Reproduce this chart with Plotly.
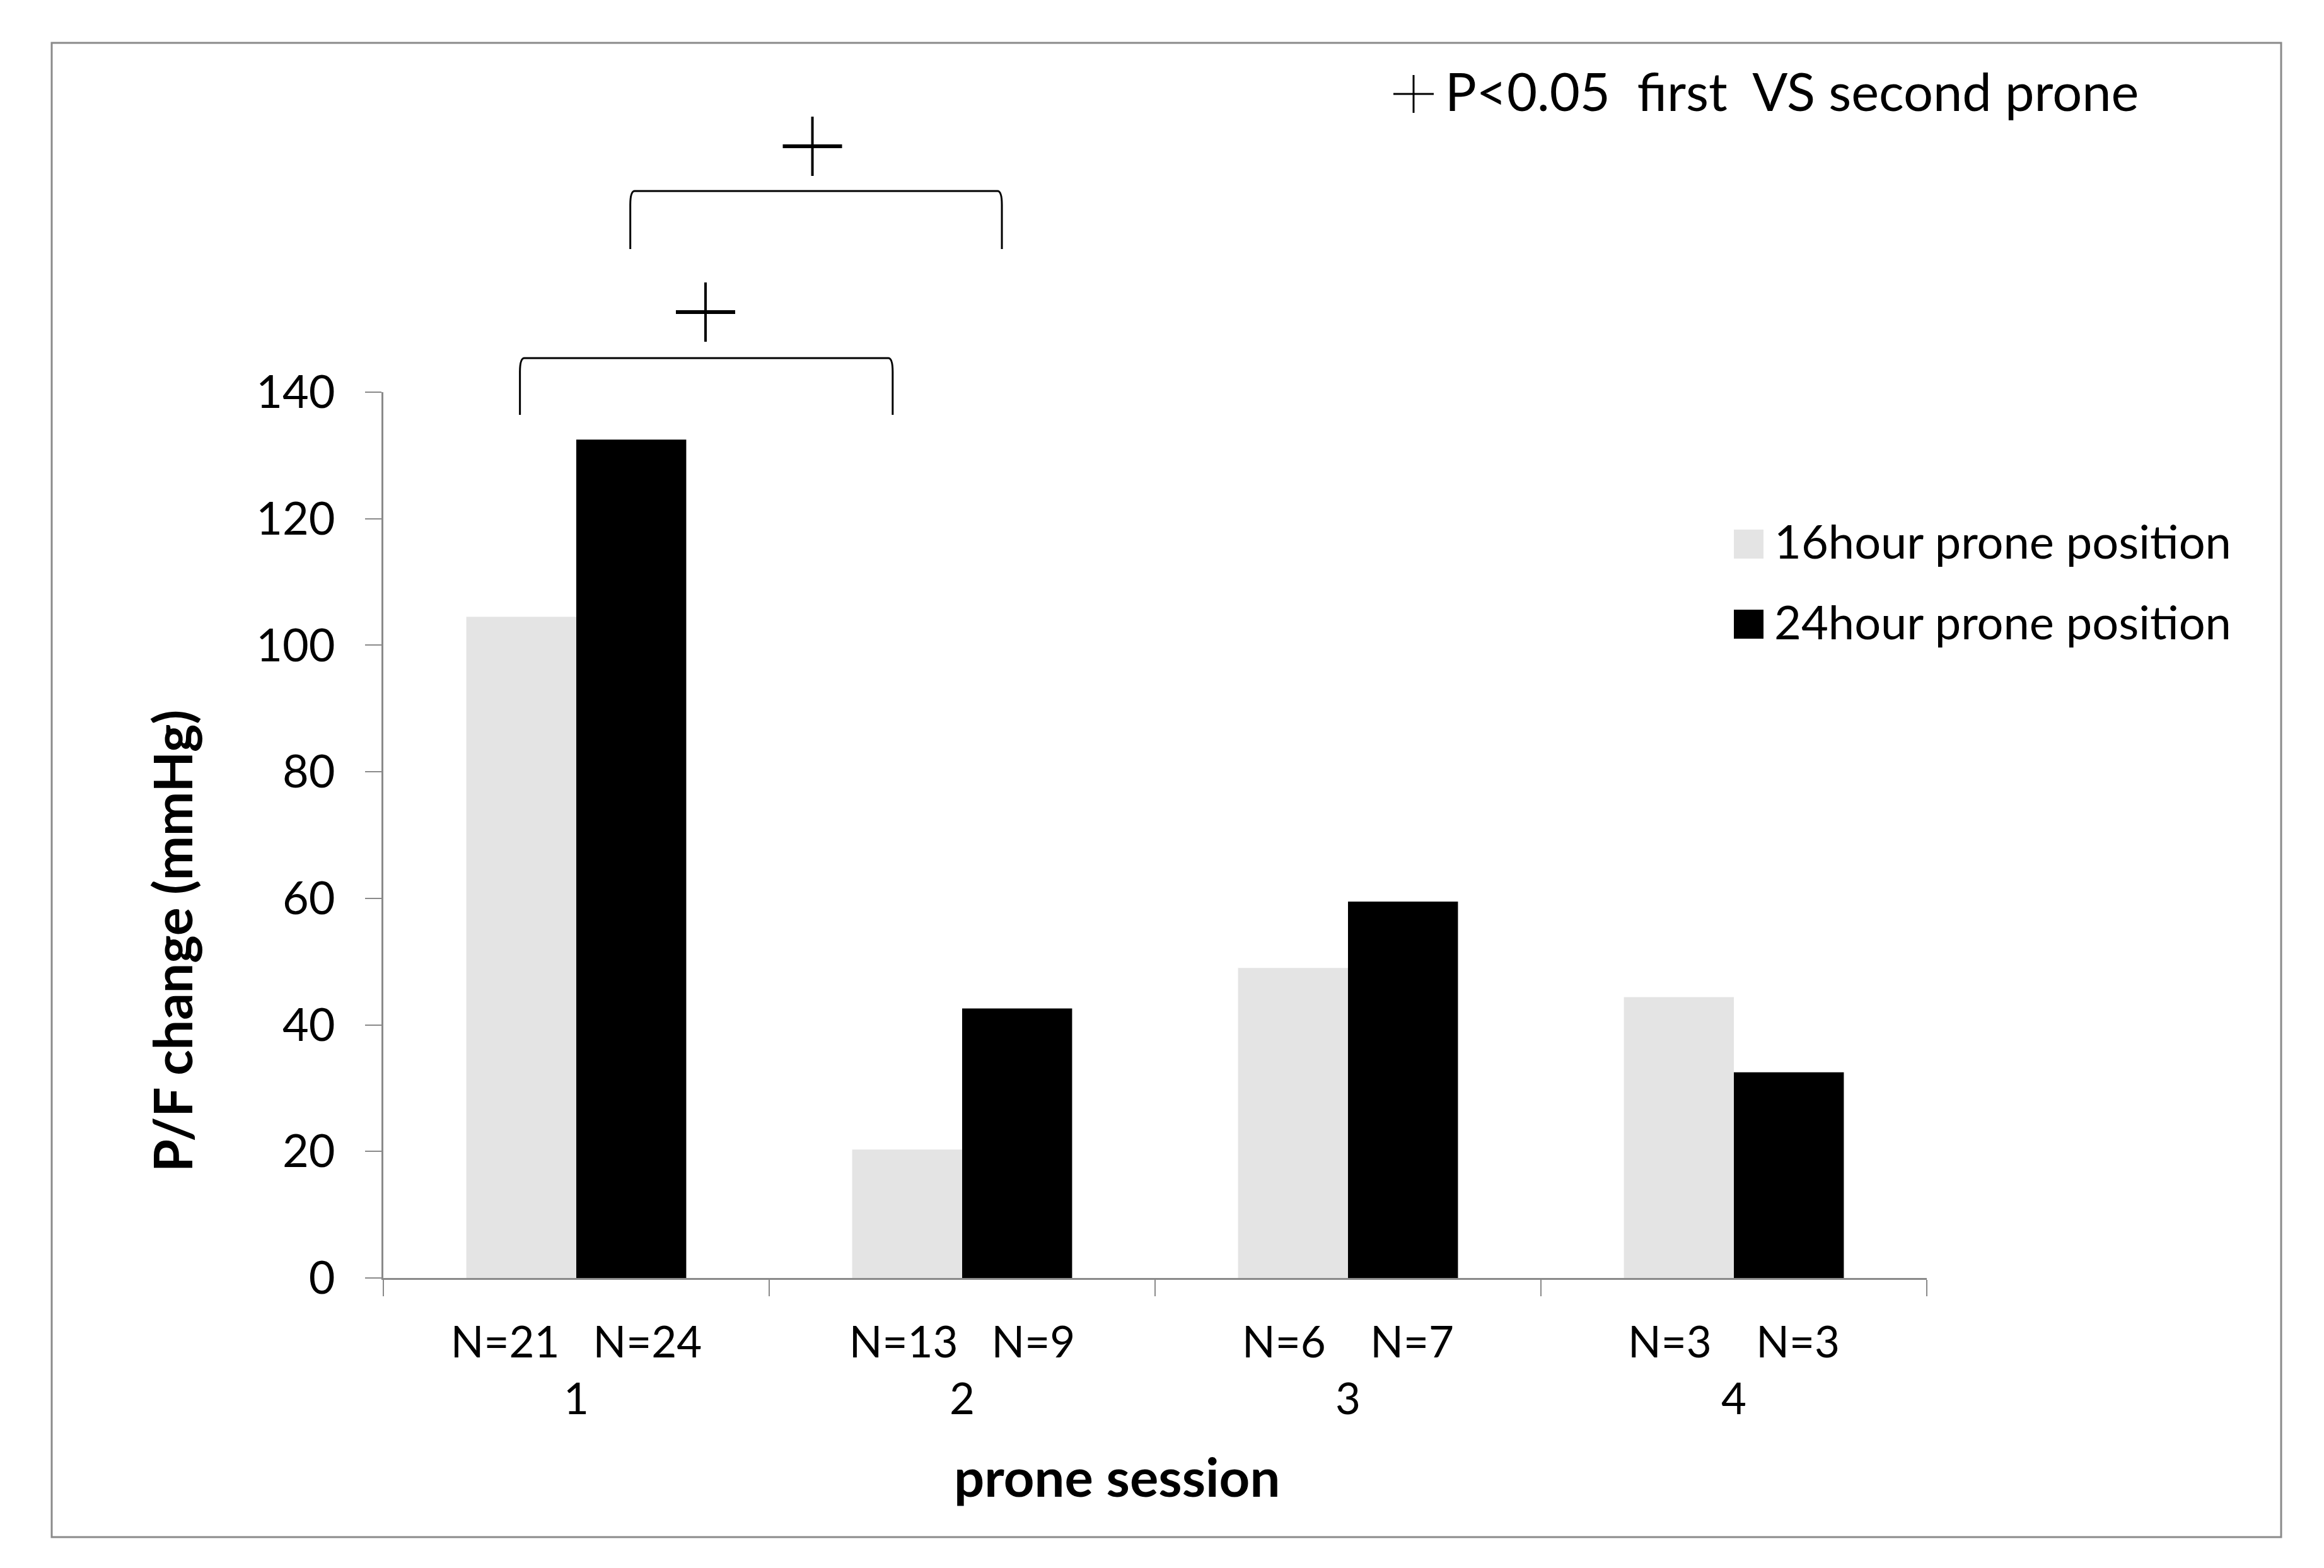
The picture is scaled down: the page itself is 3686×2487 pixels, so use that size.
import plotly.graph_objects as go

# ---------------- data ----------------
sessions = ["1", "2", "3", "4"]
pf_16h = [104.5, 20.3, 49.0, 44.4]
pf_24h = [132.5, 42.6, 59.5, 32.5]
n_16h = [21, 13, 6, 3]
n_24h = [24, 9, 7, 3]
series_names = ["16hour prone position", "24hour prone position"]
y_ticks = [0, 20, 40, 60, 80, 100, 120, 140]

# ---------------- layout geometry (reference pixels) ----------------
OFF = 8                      # page body margin
FW, FH = 3686 - 2 * OFF, 2487 - 2 * OFF
L, R, T, B = 608, 3056, 622, 2027
FONT = "Lato, 'Noto Sans', sans-serif"
GRAY = "#8a8a8a"


def px(x):
    return (x - L) / (R - L)


def py(y):
    return (B - y) / (B - T)


def gap_for(a, b):
    n = 3 if max(len(str(a)), len(str(b))) > 1 else 4
    return "\u00a0" * n


ticktext = [
    f"N={a}{gap_for(a, b)}N={b}<br>{s}" for s, a, b in zip(sessions, n_16h, n_24h)
]

fig = go.Figure()
fig.add_trace(go.Bar(x=sessions, y=pf_16h, name=series_names[0],
                     marker=dict(color="#E4E4E4", line=dict(width=0))))
fig.add_trace(go.Bar(x=sessions, y=pf_24h, name=series_names[1],
                     marker=dict(color="#000000", line=dict(width=0))))

shapes = []
# outer border
shapes.append(dict(type="rect", xref="paper", yref="paper",
                   x0=px(82), x1=px(3618), y0=py(2438), y1=py(68),
                   line=dict(color=GRAY, width=3), fillcolor="rgba(0,0,0,0)"))

# significance brackets (x in category units, y in paper units)
brackets = [
    # x0, x1, top(px), bottom(px)
    (-0.146, 0.82, 568, 658),
    (0.14, 1.103, 303, 395),
]
for x0, x1, ytp, ybp in brackets:
    yt, yb = py(ytp), py(ybp)
    c = 22 / (B - T)
    d = 7 / (R - L) * 4
    path = (f"M {x0},{yb} L {x0},{yt - c} Q {x0},{yt} {x0 + d},{yt} "
            f"L {x1 - d},{yt} Q {x1},{yt} {x1},{yt - c} L {x1},{yb}")
    shapes.append(dict(type="path", xref="x", yref="paper", path=path,
                       line=dict(color="black", width=3)))

# plus signs above brackets
pluses = [(0.335, 495), (0.612, 232)]
hw = 47 / (R - L) * 4
for cx, cyp in pluses:
    cy = py(cyp)
    hh = 47 / (B - T)
    shapes.append(dict(type="line", xref="x", yref="paper",
                       x0=cx - hw, x1=cx + hw, y0=cy, y1=cy,
                       line=dict(color="black", width=6)))
    shapes.append(dict(type="line", xref="x", yref="paper",
                       x0=cx, x1=cx, y0=cy - hh, y1=cy + hh,
                       line=dict(color="black", width=4)))

# thin plus in the note at top
shapes.append(dict(type="line", xref="paper", yref="paper",
                   x0=px(2210), x1=px(2274), y0=py(149), y1=py(149),
                   line=dict(color="black", width=3)))
shapes.append(dict(type="line", xref="paper", yref="paper",
                   x0=px(2242), x1=px(2242), y0=py(119), y1=py(179),
                   line=dict(color="black", width=3)))

# manual legend squares
legend_rows = [(863, "#E4E4E4"), (990, "#000000")]
for cyp, col in legend_rows:
    shapes.append(dict(type="rect", xref="paper", yref="paper",
                       x0=px(2750), x1=px(2797), y0=py(cyp + 23), y1=py(cyp - 23),
                       line=dict(width=0), fillcolor=col))

annotations = []
for (cyp, _), name in zip(legend_rows, series_names):
    annotations.append(dict(xref="paper", yref="paper", x=px(2812), y=py(cyp - 5),
                            xanchor="left", yanchor="middle", showarrow=False,
                            text=name, font=dict(family=FONT, size=74, color="black")))

annotations.append(dict(xref="paper", yref="paper", x=px(2290), y=py(144),
                        xanchor="left", yanchor="middle", showarrow=False,
                        text="P<0.05\u00a0\u00a0first\u00a0\u00a0VS second prone",
                        font=dict(family=FONT, size=83, color="black")))

# axis titles
annotations.append(dict(xref="paper", yref="paper", x=px(272), y=py(1492),
                        xanchor="center", yanchor="middle", showarrow=False,
                        textangle=-90, text="<b>P/F change (mmHg)</b>",
                        font=dict(family=FONT, size=84, color="black")))
annotations.append(dict(xref="paper", yref="paper", x=px(1771), y=py(2341),
                        xanchor="center", yanchor="middle", showarrow=False,
                        text="<b>prone session</b>",
                        font=dict(family=FONT, size=85, color="black")))

fig.update_layout(
    width=FW, height=FH,
    margin=dict(l=L - OFF, r=FW - (R - OFF), t=T - OFF, b=FH - (B - OFF), pad=0),
    paper_bgcolor="white", plot_bgcolor="white",
    barmode="group", bargap=0.43, bargroupgap=0,
    showlegend=False,
    font=dict(family=FONT, color="black"),
    shapes=shapes, annotations=annotations,
)
fig.update_xaxes(
    type="category", tickmode="array", tickvals=sessions, ticktext=ticktext,
    tickson="boundaries", ticks="outside", ticklen=26, tickwidth=2, tickcolor=GRAY,
    showline=True, linecolor=GRAY, linewidth=3, showgrid=False, zeroline=False,
    tickfont=dict(family=FONT, size=69, color="black"), ticklabelstandoff=40,
)
fig.update_yaxes(
    range=[0, 140], tickmode="array", tickvals=y_ticks,
    ticks="outside", ticklen=26, tickwidth=2, tickcolor=GRAY,
    showline=True, linecolor=GRAY, linewidth=3, showgrid=False, zeroline=False,
    tickfont=dict(family=FONT, size=72, color="black"), ticklabelstandoff=33,
)

fig.write_html("out.html")
